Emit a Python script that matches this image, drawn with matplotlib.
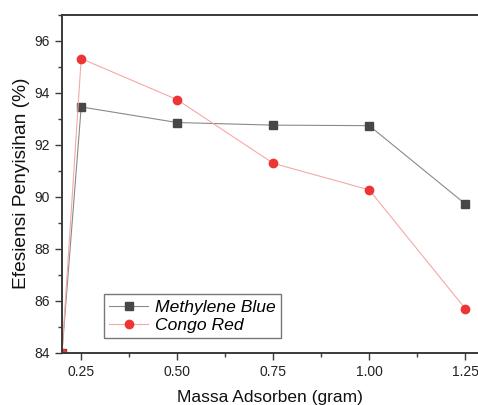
import matplotlib
matplotlib.use('Agg')
import matplotlib.pyplot as plt
from matplotlib.ticker import MultipleLocator

plt.rcParams['font.family'] = ['Liberation Sans', 'DejaVu Sans']

# data
massa = [0.2, 0.25, 0.50, 0.75, 1.00, 1.25]
methylene_blue = [84.0, 93.45, 92.85, 92.75, 92.73, 89.72]
congo_red = [84.0, 95.31, 93.73, 91.28, 90.26, 85.69]

W, H = 478, 405
fig = plt.figure(figsize=(W / 100, H / 100), dpi=100)
# axes box in pixels: left 62, top 14.7, bottom 352, right beyond the figure
left, top, bottom = 62, 14.7, 352.5
xmin, xmax = 0.2, 1.3
px_per_unit = 96 / 0.25
right = left + (xmax - xmin) * px_per_unit
ax = fig.add_axes([left / W, (H - bottom) / H, (right - left) / W, (bottom - top) / H])

ax.plot(massa, methylene_blue, color='#8a8a8a', lw=0.8, marker='s', ms=5.2,
        mfc='#474747', mec='#474747', label='Methylene Blue')
ax.plot(massa, congo_red, color='#f6a8a8', lw=0.8, marker='o', ms=6,
        mfc='#ee3535', mec='#ee3535', label='Congo Red')

ax.set_xlim(xmin, xmax)
ax.set_ylim(84, 97.0)
ax.set_xticks([0.25, 0.50, 0.75, 1.00, 1.25])
ax.xaxis.set_minor_locator(MultipleLocator(0.125))
ax.set_yticks([84, 86, 88, 90, 92, 94, 96])
ax.yaxis.set_minor_locator(MultipleLocator(1))

for s in ['left', 'bottom', 'top']:
    ax.spines[s].set_color('#3a3a3a')
    ax.spines[s].set_linewidth(1.4)
ax.spines['right'].set_visible(False)

ax.tick_params(axis='both', which='major', direction='out', length=5, width=1,
               color='#3a3a3a', labelsize=10, labelcolor='#222222', pad=4)
ax.tick_params(axis='both', which='minor', direction='out', length=3, width=1,
               color='#3a3a3a')

ax.set_xlabel('Massa Adsorben (gram)', fontsize=12.5, color='#111111')
ax.set_ylabel('Efesiensi Penyisihan (%)', fontsize=13.8, color='#111111')
ax.xaxis.set_label_coords((270 - left) / (right - left), -0.11)
ax.yaxis.set_label_coords(-(left - 30) / (right - left), 0.5)

leg = ax.legend(loc='lower left', bbox_to_anchor=((104 - left) / (right - left), 0.043),
                prop={'style': 'italic', 'size': 12.6}, frameon=True, fancybox=False,
                borderpad=0.3, labelspacing=0.15, handlelength=2.2, handletextpad=0.4,
                borderaxespad=0)
leg.get_frame().set_edgecolor('#555555')
leg.get_frame().set_linewidth(1.0)

fig.savefig('out.png', dpi=100)
